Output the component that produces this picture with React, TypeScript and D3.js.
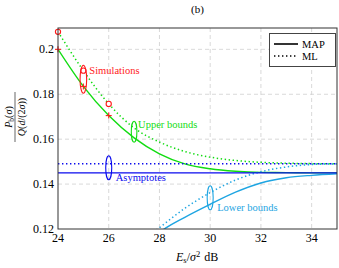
// @ts-nocheck
import React from 'react';
import * as d3 from 'd3';

// Es/sigma^2 in dB
const snrDb = [24, 25, 26, 27, 28, 29, 30, 31, 32, 33, 34, 35];
const upperMap = [0.2, 0.1835, 0.1705, 0.1606, 0.1535, 0.149, 0.1468, 0.1457, 0.1452, 0.1451, 0.145, 0.145];
const upperMl = [0.2078, 0.1905, 0.1757, 0.165, 0.1587, 0.1545, 0.152, 0.1505, 0.1497, 0.1493, 0.1491, 0.149];

const lowerSnr = [27, 28, 29, 30, 31, 32, 33, 34, 35];
const lowerMap = [0.108, 0.1185, 0.1252, 0.131, 0.1364, 0.1405, 0.1428, 0.1439, 0.1446];
const lowerMl = [0.112, 0.1206, 0.1292, 0.1362, 0.1418, 0.1455, 0.1476, 0.1487, 0.149];

const asymMap = 0.145;
const asymMl = 0.149;

const simSnr = [24, 25, 26];
const simMap = [0.2, 0.1835, 0.1705];
const simMl = [0.2078, 0.1905, 0.1757];

const xTicks = [24, 26, 28, 30, 32, 34];
const yTicks = [0.12, 0.14, 0.16, 0.18, 0.2];

const GREEN = '#12dc12';
const BLUE = '#0a0aee';
const LIGHT = '#1ea5e2';
const RED = '#ff1a1a';
const serif = 'Liberation Serif, Times New Roman, serif';

export default function App() {
  const W = 339, H = 268;
  const left = 58, right = 337, top = 28, bottom = 229;

  const x = d3.scaleLinear().domain([24, 35]).range([left, right]);
  const y = d3.scaleLinear().domain([0.12, 0.2095]).range([bottom, top]);

  const line = d3.line().curve(d3.curveMonotoneX).x(d => x(d[0])).y(d => y(d[1]));
  const pairs = (xs, ys) => xs.map((v, i) => [v, ys[i]]);

  const dotted = { strokeDasharray: '1.4 2.6', strokeWidth: 1.5 };

  return (
    <div style={{ position: 'absolute', left: 0, top: 0, fontFamily: serif }}>
    <svg width={W} height={H} style={{ display: 'block', background: '#fff' }} fontFamily={serif}>
      <defs>
        <clipPath id="plot">
          <rect x={left} y={top} width={right - left} height={bottom - top} />
        </clipPath>
      </defs>

      {/* title */}
      <text x={(left + right) / 2} y={13} textAnchor="middle" fontSize={11}>(b)</text>

      {/* grid */}
      {xTicks.filter(t => t > 24).map(t => (
        <line key={'gx' + t} x1={x(t)} x2={x(t)} y1={top} y2={bottom} stroke="#cfcfcf" strokeWidth={0.8} strokeDasharray="4 3" />
      ))}
      {yTicks.filter(t => t > 0.12).map(t => (
        <line key={'gy' + t} x1={left} x2={right} y1={y(t)} y2={y(t)} stroke="#cfcfcf" strokeWidth={0.8} strokeDasharray="4 3" />
      ))}

      <g clipPath="url(#plot)" fill="none">
        {/* upper bounds */}
        <path d={line(pairs(snrDb, upperMap))} stroke={GREEN} strokeWidth={1.4} />
        <path d={line(pairs(snrDb, upperMl))} stroke={GREEN} style={dotted} />
        {/* lower bounds */}
        <path d={line(pairs(lowerSnr, lowerMap))} stroke={LIGHT} strokeWidth={1.4} />
        <path d={line(pairs(lowerSnr, lowerMl))} stroke={LIGHT} style={dotted} />
        {/* asymptotes */}
        <line x1={left} x2={right} y1={y(asymMap)} y2={y(asymMap)} stroke={BLUE} strokeWidth={1.4} />
        <line x1={left} x2={right} y1={y(asymMl)} y2={y(asymMl)} stroke={BLUE} style={dotted} />
      </g>

      {/* simulation markers */}
      {simSnr.map((s, i) => (
        <g key={'s' + s} stroke={RED} strokeWidth={1.1} fill="none">
          <circle cx={x(s)} cy={y(simMl[i])} r={2.6} fill="#fff" />
          <line x1={x(s) - 3} x2={x(s) + 3} y1={y(simMap[i])} y2={y(simMap[i])} />
          <line x1={x(s)} x2={x(s)} y1={y(simMap[i]) - 3} y2={y(simMap[i]) + 3} />
        </g>
      ))}

      {/* annotations */}
      <ellipse cx={x(25)} cy={y(0.1867)} rx={3.3} ry={14} fill="none" stroke={RED} strokeWidth={1.1} />
      <text x={x(25) + 6} y={y(0.1867) - 5} fontSize={10.5} fill={RED}>Simulations</text>

      <ellipse cx={x(27)} cy={y(0.1633)} rx={2.8} ry={10.5} fill="none" stroke={GREEN} strokeWidth={1.1} />
      <text x={x(27) + 4} y={y(0.1633) - 3.5} fontSize={10.5} fill={GREEN}>Upper bounds</text>

      <ellipse cx={x(26)} cy={y(0.1473)} rx={3} ry={12} fill="none" stroke={BLUE} strokeWidth={1.1} />
      <text x={x(26) + 7} y={y(0.1473) + 13.5} fontSize={10.5} fill={BLUE}>Asymptotes</text>

      <ellipse cx={x(30)} cy={y(0.1339)} rx={3} ry={12} fill="none" stroke={LIGHT} strokeWidth={1.1} />
      <text x={x(30) + 7} y={y(0.1339) + 13} fontSize={10.5} fill={LIGHT}>Lower bounds</text>

      {/* frame */}
      <rect x={left} y={top} width={right - left} height={bottom - top} fill="none" stroke="#333" strokeWidth={1} />

      {/* tick labels */}
      {xTicks.map(t => (
        <text key={'xt' + t} x={x(t)} y={bottom + 13} textAnchor="middle" fontSize={12}>{t}</text>
      ))}
      {yTicks.map(t => (
        <text key={'yt' + t} x={left - 4} y={y(t) + 4} textAnchor="end" fontSize={12}>{d3.format('.2~f')(t)}</text>
      ))}

      {/* legend */}
      <g>
        <rect x={269.5} y={33.5} width={66} height={33} fill="#fff" stroke="#444" strokeWidth={1} />
        <line x1={274} x2={298} y1={44} y2={44} stroke="#000" strokeWidth={1.6} />
        <text x={302} y={47.5} fontSize={10.5}>MAP</text>
        <line x1={274} x2={298} y1={56} y2={56} stroke="#000" style={dotted} />
        <text x={302} y={59.5} fontSize={10.5}>ML</text>
      </g>

      {/* x label */}
      <text x={176} y={261} fontSize={12}>
        <tspan fontStyle="italic">E</tspan>
        <tspan fontSize={8.5} dy={2}>s</tspan>
        <tspan dy={-2}>/</tspan>
        <tspan fontStyle="italic">σ</tspan>
        <tspan fontSize={8.5} dy={-4.5}>2</tspan>
        <tspan dy={4.5} dx={4}>dB</tspan>
      </text>

      {/* y label: fraction */}
      <g transform="translate(15,117) rotate(-90)">
        <text x={0} y={-3} textAnchor="middle" fontSize={10}>
          <tspan fontStyle="italic">P</tspan>
          <tspan fontSize={7.5} dy={2}>b</tspan>
          <tspan dy={-2}>(</tspan>
          <tspan fontStyle="italic">σ</tspan>
          <tspan>)</tspan>
        </text>
        <line x1={-25} x2={25} y1={0} y2={0} stroke="#000" strokeWidth={0.6} />
        <text x={0} y={9.5} textAnchor="middle" fontSize={10}>
          <tspan fontStyle="italic">Q</tspan>
          <tspan>(</tspan>
          <tspan fontStyle="italic">d</tspan>
          <tspan>/(2</tspan>
          <tspan fontStyle="italic">σ</tspan>
          <tspan>))</tspan>
        </text>
      </g>
    </svg>
    </div>
  );
}
